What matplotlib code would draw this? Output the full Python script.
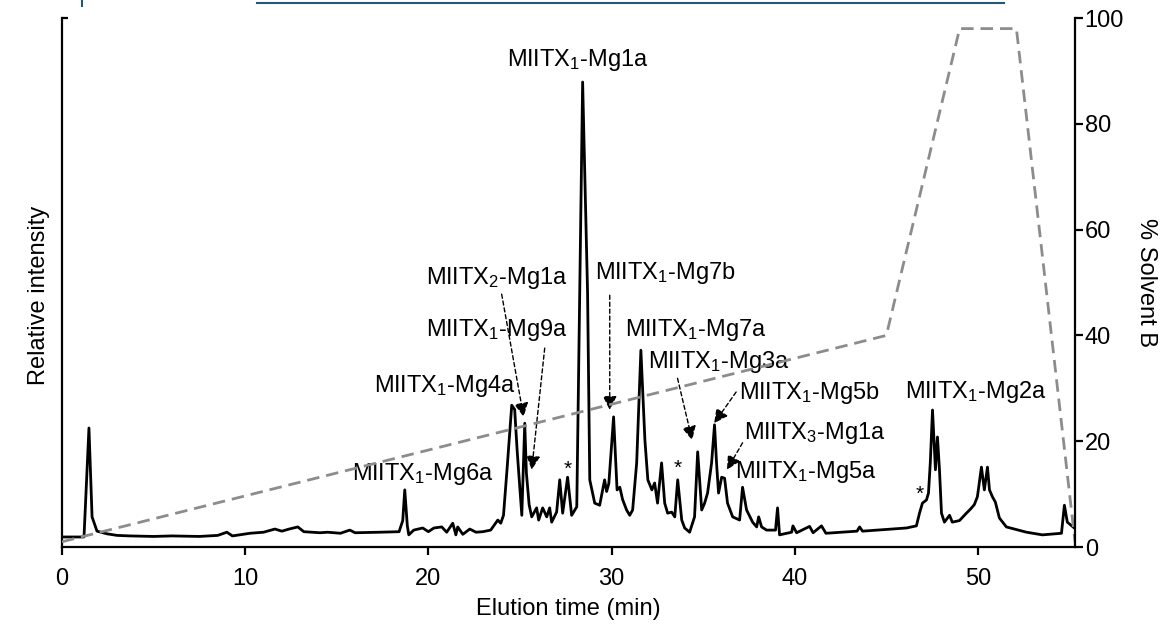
import matplotlib
matplotlib.use("Agg")
import matplotlib.pyplot as plt
from matplotlib.lines import Line2D

plt.rcParams['font.family'] = ['Liberation Sans', 'DejaVu Sans']
plt.rcParams['mathtext.default'] = 'regular'

# chromatogram trace (elution time in min, relative intensity on a 0-100 scale)
time = [0.0, 1.20, 1.47, 1.64, 1.91, 2.45, 3.0, 3.71, 5.0, 6.0, 7.5, 8.5, 9.0, 9.3,
        10.26, 11.0, 11.62, 12.0, 12.4, 12.87, 13.2, 14.08, 14.5, 15.2, 15.71, 16.0,
        17.35, 18.4, 18.60, 18.71, 18.85, 18.93, 19.2, 19.69, 20.0, 20.3, 20.73, 21.0,
        21.33, 21.5, 21.60, 21.88, 22.26, 22.6, 22.97, 23.4, 23.79, 23.95, 24.1, 24.3,
        24.55, 24.71, 24.85, 25.10, 25.26, 25.35, 25.50, 25.64, 25.91, 26.02, 26.24,
        26.46, 26.62, 26.73, 27.0, 27.17, 27.33, 27.60, 27.82, 28.10, 28.26, 28.42,
        28.69, 28.81, 29.08, 29.35, 29.62, 29.73, 29.85, 30.11, 30.3, 30.45, 30.6,
        30.82, 30.99, 31.15, 31.37, 31.60, 31.82, 31.98, 32.2, 32.35, 32.51, 32.73,
        32.90, 33.06, 33.28, 33.45, 33.61, 33.83, 33.99, 34.26, 34.53, 34.70, 34.92,
        35.08, 35.24, 35.46, 35.62, 35.73, 35.84, 36.01, 36.17, 36.33, 36.61, 36.99,
        37.15, 37.37, 37.70, 37.92, 38.03, 38.19, 38.46, 38.95, 39.06, 39.17, 39.83,
        39.9, 40.1, 40.81, 41.0, 41.46, 41.7, 43.4, 43.54, 43.7, 46.10, 46.64, 46.81,
        46.97, 47.19, 47.30, 47.40, 47.52, 47.68, 47.79, 47.90, 48.01, 48.17, 48.45,
        48.6, 48.99, 49.37, 49.6, 49.8, 49.97, 50.19, 50.35, 50.52, 50.63, 50.79,
        50.95, 51.17, 51.55, 52.65, 53.52, 54.56, 54.72, 54.88, 55.26]
intensity = [1.9, 1.9, 22.5, 5.7, 3.0, 2.5, 2.2, 2.1, 2.0, 2.1, 2.0, 2.2, 2.8, 2.1,
             2.6, 2.8, 3.4, 3.0, 3.4, 3.8, 2.9, 2.7, 2.8, 2.6, 3.2, 2.7,
             2.8, 2.9, 5.0, 10.8, 4.0, 2.3, 3.2, 3.6, 2.9, 3.6, 3.8, 2.8,
             4.5, 2.3, 3.8, 2.4, 3.4, 2.8, 2.9, 3.2, 5.1, 4.5, 6.0, 15.0,
             26.8, 26.0, 18.0, 6.0, 23.4, 14.0, 8.0, 5.7, 7.4, 5.1, 7.4,
             5.7, 7.4, 4.7, 6.6, 12.7, 6.4, 13.2, 6.0, 7.6, 48.0, 87.9,
             48.0, 12.7, 8.3, 7.9, 12.7, 10.5, 12.0, 24.6, 10.8, 11.3, 9.0,
             7.0, 6.0, 7.0, 15.9, 37.2, 20.2, 12.7, 10.8, 12.1, 8.3, 15.9,
             8.3, 6.4, 6.6, 5.7, 12.7, 5.1, 3.6, 2.8, 5.7, 18.0, 7.0,
             8.3, 10.2, 15.9, 23.1, 15.9, 10.2, 13.2, 13.0, 8.3, 5.7, 5.1,
             11.3, 7.0, 4.7, 3.8, 5.7, 3.8, 3.2, 3.2, 7.4, 2.3, 2.8,
             4.0, 2.7, 3.9, 2.7, 4.0, 2.6, 3.0, 3.8, 3.0, 3.6, 4.0, 6.4,
             8.3, 8.9, 10.2, 16.0, 25.9, 14.6, 20.8, 14.6, 6.4, 4.7, 6.0,
             4.7, 5.0, 6.4, 7.2, 8.0, 9.5, 15.1, 10.8, 15.1, 10.8, 9.5,
             8.5, 5.5, 3.8, 2.8, 2.3, 2.6, 7.9, 4.7, 3.6]

# solvent B gradient (%)
grad_time = [0, 45, 49, 52.1, 55.3]
grad_b = [1, 40, 98, 98, 1]

# peak labels: text, text position, arrow tip (None = no arrow)
peak_labels = [
    (r'MIITX$_1$-Mg1a', (28.15, 92.0), None),
    (r'MIITX$_2$-Mg1a', (23.73, 50.8), (25.2, 24.6)),
    (r'MIITX$_1$-Mg9a', (23.73, 41.0), (25.64, 14.6)),
    (r'MIITX$_1$-Mg4a', (20.9, 30.4), None),
    (r'MIITX$_1$-Mg6a', (19.7, 13.8), None),
    (r'MIITX$_1$-Mg7b', (32.95, 51.8), (29.9, 25.9)),
    (r'MIITX$_1$-Mg7a', (34.6, 41.0), None),
    (r'MIITX$_1$-Mg3a', (35.84, 35.0), (34.4, 20.2)),
    (r'MIITX$_1$-Mg5b', (40.8, 29.1), (35.6, 23.4)),
    (r'MIITX$_3$-Mg1a', (41.1, 21.6), (36.3, 14.6)),
    (r'MIITX$_1$-Mg5a', (40.6, 14.2), None),
    (r'MIITX$_1$-Mg2a', (49.9, 29.3), None),
]
# dashed arrow start points, same order as the arrowed labels
arrow_starts = [(24.0, 47.8), (26.35, 37.6), (29.9, 47.6), (33.6, 31.9), (36.8, 29.3), (37.15, 19.7)]
star_positions = [(27.6, 14.6), (33.6, 14.8), (46.8, 9.9)]

fig = plt.figure(figsize=(11.68, 6.30), dpi=100)
ax = fig.add_axes([0.0531, 0.1317, 0.8673, 0.8397])
ax2 = ax.twinx()

ax.plot(time, intensity, color='black', lw=2.0, zorder=3)
ax2.plot(grad_time, grad_b, color='#8c8c8c', lw=2.0, ls=(0, (4.5, 2.5)), zorder=2)

ax.set_xlim(0, 55.3)
ax.set_ylim(0, 100)
ax2.set_ylim(0, 100)

for a in (ax, ax2):
    a.spines['top'].set_visible(False)
    for s in a.spines.values():
        s.set_linewidth(1.6)
ax.spines['right'].set_visible(False)
ax2.spines['left'].set_visible(False)
ax2.spines['bottom'].set_visible(False)

ax.set_xticks([0, 10, 20, 30, 40, 50])
ax.tick_params(axis='x', direction='out', length=6, width=1.6, labelsize=17, pad=9)
ax.set_yticks([100])
ax.tick_params(axis='y', direction='in', length=4, width=1.6, labelleft=False)
ax2.set_yticks([0, 20, 40, 60, 80, 100])
ax2.tick_params(axis='y', direction='out', length=6, width=1.6, labelsize=17, pad=1)

ax.set_xlabel('Elution time (min)', fontsize=17, labelpad=6)
ax.set_ylabel('Relative intensity', fontsize=17)
ax.yaxis.set_label_coords(-0.012, 0.475)
ax2.set_ylabel('% Solvent B', fontsize=17, rotation=270, labelpad=24)

arrow_idx = 0
for text, pos, tip in peak_labels:
    ax.text(pos[0], pos[1], text, fontsize=17, ha='center', va='center', zorder=5)
    if tip is not None:
        ax.annotate('', xy=tip, xytext=arrow_starts[arrow_idx],
                    arrowprops=dict(arrowstyle='-|>', color='black', lw=1.0,
                                    linestyle=(0, (3, 2)), mutation_scale=21,
                                    shrinkA=0, shrinkB=0), zorder=5)
        arrow_idx += 1

for sx, sy in star_positions:
    ax.text(sx, sy, '*', fontsize=15, ha='center', va='center')

# cropped hyperlink remnant at the top edge
fig.add_artist(Line2D([0.22, 0.86], [0.996, 0.996], color='#1f5a78', lw=1.5))
fig.add_artist(Line2D([0.0705, 0.0705], [0.99, 1.0], color='#1f5a78', lw=1.5))

fig.savefig('out.png', dpi=100)
